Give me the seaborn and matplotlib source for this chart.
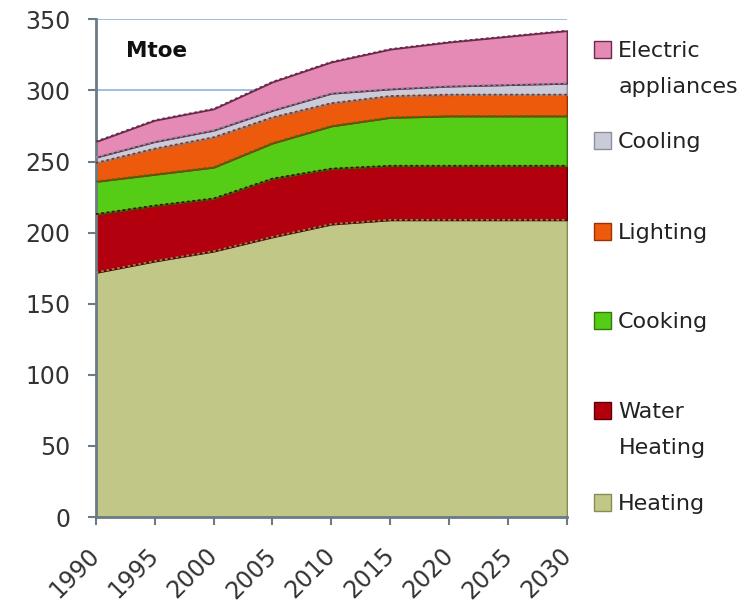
import pandas as pd
import numpy as np
import matplotlib
matplotlib.use("Agg")
import matplotlib.pyplot as plt
from matplotlib.patches import Patch
from matplotlib.transforms import ScaledTranslation
import seaborn as sns

years = [1990, 1995, 2000, 2005, 2010, 2015, 2020, 2025, 2030]
uses = ["Heating", "Water Heating", "Cooking", "Lighting", "Cooling", "Electric appliances"]
heating = [172, 180, 187, 197, 206, 209, 209, 209, 209]
water_heating = [41, 39, 37, 41, 39, 38, 38, 38, 38]
cooking = [23, 22, 22, 25, 30, 34, 35, 35, 35]
lighting = [13, 18, 21, 18, 16, 15, 15, 15, 15]
cooling = [4, 5, 5, 5, 7, 5, 6, 7, 8]
electric = [11, 15, 15, 20, 22, 28, 31, 34, 37]

colors = ["#c1c887", "#b3000e", "#55cd16", "#ee5a0c", "#c9cbd9", "#e48ab5"]
edges = ["#878c52", "#5a0008", "#2f7a08", "#9a3005", "#8d8fa0", "#6a2a4a"]

df = pd.DataFrame({"year": years})
for name, vals in zip(uses, [heating, water_heating, cooking, lighting, cooling, electric]):
    df[name] = vals
cum = df[uses].cumsum(axis=1)
cum["year"] = df["year"]

sns.set_style("white")
plt.rcParams["font.family"] = ["DejaVu Sans"]

fig = plt.figure(figsize=(7.54, 6.02), dpi=100)
ax = fig.add_axes([0.127, 0.141, 0.625, 0.827])

ax.yaxis.grid(True, color="#8db3e2", linewidth=1.2, zorder=0)
ax.set_axisbelow(True)

base = np.zeros(len(years))
for i, name in enumerate(uses):
    top = cum[name].values
    ax.fill_between(df["year"], base, top, facecolor=colors[i], edgecolor=edges[i],
                    linewidth=1.3, zorder=2 + i * 0.1)
    base = top
    # dotted darker boundary on top of each band
    sns.lineplot(x="year", y=name, data=cum, ax=ax, color=edges[i], linewidth=1.3,
                 linestyle=(0, (1.5, 1.5)), zorder=3)

ax.set_xlim(1990, 2030)
ax.set_ylim(0, 350)
ax.set_xticks(years)
ax.set_yticks(range(0, 351, 50))
ax.set_xlabel("")
ax.set_ylabel("")
ax.tick_params(axis="both", labelsize=17, colors="#333333", length=5.5, width=1.5,
               direction="out", bottom=True, left=True, color="#6a7b86")
ax.tick_params(axis="y", pad=13)
ax.tick_params(axis="x", pad=13.5)
for lab in ax.get_xticklabels():
    lab.set_rotation(45)
    lab.set_ha("right")
    lab.set_rotation_mode("anchor")
    lab.set_transform(lab.get_transform() + ScaledTranslation(-0.08, 0, fig.dpi_scale_trans))
for side in ["top", "right"]:
    ax.spines[side].set_visible(False)
for side in ["left", "bottom"]:
    ax.spines[side].set_color("#6a7b86")
    ax.spines[side].set_linewidth(2)

ax.text(1992.55, 328, "Mtoe", fontsize=15.5, fontweight="bold", ha="left", va="center",
        color="#111111")

# legend, one entry per item so the gaps follow the original layout
legend_y = [51, 142, 233, 322, 412, 504]
order = uses[::-1]
for k, name in enumerate(order):
    i = uses.index(name)
    words = name.split(" ")
    first = words[0]
    rest = " ".join(words[1:])
    yc = 1 - legend_y[k] / 602
    leg = fig.legend([Patch(facecolor=colors[i], edgecolor=edges[i])], [first],
                     loc="center left", bbox_to_anchor=(594 / 754, yc), frameon=False,
                     fontsize=16, handlelength=0.77, handleheight=0.77, handletextpad=0.3,
                     borderpad=0, borderaxespad=0, labelcolor="#222222")
    if rest:
        fig.text(619 / 754, 1 - (legend_y[k] + 36) / 602, rest, fontsize=16,
                 color="#222222", ha="left", va="center")

fig.savefig("out.png", dpi=100)
